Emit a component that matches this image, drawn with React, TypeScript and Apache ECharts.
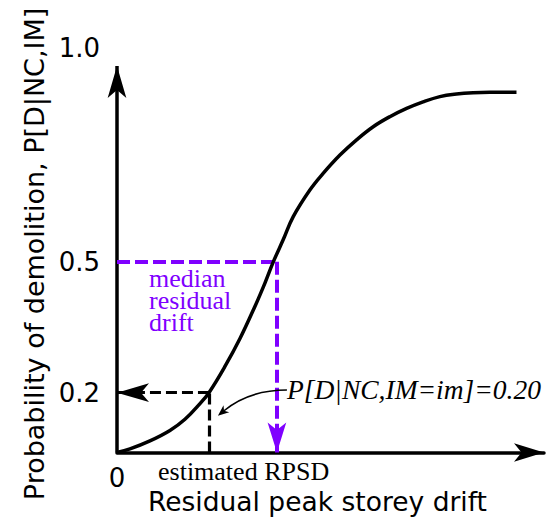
import React, { useEffect, useRef } from "react";
import * as echarts from "echarts";

// Schematic fragility curve (x: residual drift in arbitrary units, median = 1.0)
const curveX = [0, 0.081, 0.206, 0.331, 0.425, 0.519, 0.575, 0.675, 0.769, 0.863, 0.925, 0.978, 1.039, 1.102, 1.206, 1.289, 1.394, 1.498, 1.602, 1.706, 1.811, 1.914, 2.019, 2.123, 2.227, 2.331, 2.498];
const curveY = [0.063, 0.0712, 0.0895, 0.1134, 0.139, 0.175, 0.2, 0.26, 0.324, 0.398, 0.451, 0.5, 0.55, 0.603, 0.664, 0.702, 0.744, 0.779, 0.809, 0.832, 0.851, 0.866, 0.878, 0.884, 0.887, 0.888, 0.888];
const yTickValues = [0.2, 0.5, 1.0];
const xTickValues = [0];
const xMin = 0;
const xMax = 2.67;
const yMin = 0.063;
const yMax = 1.0;
const yArrowEnd = 0.948;
const medianDrift = 1.0;
const medianProb = 0.5;
const estimatedDrift = 0.575;
const estimatedProb = 0.2;
const noteStart = [1.0625, 0.206];
const noteEnd = [0.631, 0.147];

const PURPLE = "#7f00ff";
const SANS = "DejaVu Sans";
const SERIF = "Liberation Serif";

export default function App() {
  const ref = useRef<HTMLDivElement>(null);
  useEffect(() => {
    if (!ref.current) return;
    const chart = echarts.init(ref.current, undefined, { renderer: "svg" });
    const curve = curveX.map((x, i) => [x, curveY[i]]);
    chart.setOption({
      animation: false,
      backgroundColor: "#ffffff",
      grid: { left: 117, right: 16, top: 43.3, bottom: 66.5, outerBoundsMode: "none" },
      xAxis: {
        type: "value",
        min: xMin,
        max: xMax,
        name: "Residual peak storey drift",
        nameLocation: "middle",
        nameGap: 35,
        nameMoveOverlap: false,
        nameTextStyle: { fontFamily: SANS, fontSize: 26.5, color: "#000", padding: [0, 26, 0, 0] },
        axisLine: {
          show: true,
          onZero: false,
          symbol: ["none", "arrow"],
          symbolSize: [14, 30],
          lineStyle: { color: "#000", width: 3.5 },
        },
        axisTick: { show: false },
        splitLine: { show: false },
        axisLabel: {
          customValues: xTickValues,
          fontFamily: SANS,
          fontSize: 26,
          color: "#000",
          margin: 12,
          formatter: (v: number) => String(v),
        },
      },
      yAxis: {
        type: "value",
        min: yMin,
        max: yMax,
        name: "Probability of demolition, P[D|NC,IM]",
        nameLocation: "middle",
        nameGap: 62,
        nameTextStyle: { fontFamily: SANS, fontSize: 27, color: "#000", padding: [0, 12, 0, 0] },
        axisLine: { show: false },
        axisTick: { show: false },
        splitLine: { show: false },
        axisLabel: {
          customValues: yTickValues,
          fontFamily: SANS,
          fontSize: 26,
          color: "#000",
          margin: 17,
          formatter: (v: number) => (v >= yMax ? `{top|${v.toFixed(1)}}` : v.toFixed(1)),
          rich: {
            top: { fontFamily: SANS, fontSize: 26, color: "#000", padding: [10, 0, 0, 0] },
          },
        },
      },
      series: [
        {
          type: "line",
          data: curve,
          smooth: 0.4,
          showSymbol: false,
          z: 5,
          lineStyle: { color: "#000", width: 3.5 },
          markLine: {
            silent: true,
            symbol: ["none", "none"],
            label: { show: false },
            emphasis: { disabled: true },
            data: [
              // y axis with arrow
              [
                { coord: [xMin, yMin], symbol: "none" },
                { coord: [xMin, yArrowEnd], symbol: "arrow", symbolSize: [14, 32], itemStyle: { color: "#000" }, lineStyle: { color: "#000", width: 3.5, type: "solid" } },
              ],
              // purple median lines
              [
                { coord: [xMin, medianProb], symbol: "none" },
                { coord: [medianDrift, medianProb], symbol: "none", lineStyle: { color: PURPLE, width: 4, type: [13, 5] } },
              ],
              [
                { coord: [medianDrift, medianProb], symbol: "none" },
                { coord: [medianDrift, yMin], symbol: "arrow", symbolSize: [14, 30], itemStyle: { color: PURPLE }, lineStyle: { color: PURPLE, width: 4, type: [13, 5] } },
              ],
              // black estimated lines
              [
                { coord: [estimatedDrift, yMin], symbol: "none" },
                { coord: [estimatedDrift, estimatedProb], symbol: "none", lineStyle: { color: "#000", width: 3.2, type: [11, 5] } },
              ],
              [
                { coord: [estimatedDrift, estimatedProb], symbol: "none" },
                { coord: [xMin, estimatedProb], symbol: "arrow", symbolSize: [14, 32], itemStyle: { color: "#000" }, lineStyle: { color: "#000", width: 3.2, type: [11, 5] } },
              ],
            ],
          },
        },
        {
          type: "custom",
          silent: true,
          z: 6,
          data: [[noteStart[0], noteStart[1], noteEnd[0], noteEnd[1]]],
          renderItem: (_params: any, api: any) => {
            const p0 = api.coord([api.value(0), api.value(1)]);
            const p2 = api.coord([api.value(2), api.value(3)]);
            const cp = [p0[0] + (p2[0] - p0[0]) * 0.55, p0[1]];
            const dx = p2[0] - cp[0];
            const dy = p2[1] - cp[1];
            const len = Math.hypot(dx, dy);
            const ux = dx / len;
            const uy = dy / len;
            const L = 11;
            const W = 4.5;
            const bx = p2[0] - ux * L;
            const by = p2[1] - uy * L;
            const nx = -uy;
            const ny = ux;
            const notch = [p2[0] - ux * L * 0.72, p2[1] - uy * L * 0.72];
            return {
              type: "group",
              children: [
                {
                  type: "bezierCurve",
                  shape: { x1: p0[0], y1: p0[1], x2: notch[0], y2: notch[1], cpx1: cp[0], cpy1: cp[1] },
                  style: { stroke: "#000", lineWidth: 1.6, fill: "none" },
                },
                {
                  type: "polygon",
                  shape: { points: [p2, [bx + nx * W, by + ny * W], notch, [bx - nx * W, by - ny * W]] },
                  style: { fill: "#000" },
                },
              ],
            };
          },
        },
      ],
      graphic: [
        {
          type: "text",
          x: 149,
          y: 267,
          style: {
            text: "median\nresidual\ndrift",
            fill: PURPLE,
            font: `26px '${SERIF}'`,
            lineHeight: 22,
            verticalAlign: "top",
          },
        },
        {
          type: "text",
          x: 287,
          y: 389,
          style: {
            text: "P[D|NC,IM=im]=0.20",
            fill: "#000",
            font: `italic 27.5px '${SERIF}'`,
            verticalAlign: "middle",
          },
        },
        {
          type: "text",
          x: 158,
          y: 471,
          style: {
            text: "estimated RPSD",
            fill: "#000",
            font: `26px '${SERIF}'`,
            verticalAlign: "middle",
          },
        },
      ],
    });
    return () => chart.dispose();
  }, []);
  return <div ref={ref} style={{ width: 560, height: 519, position: "fixed", left: 0, top: 0 }} />;
}
